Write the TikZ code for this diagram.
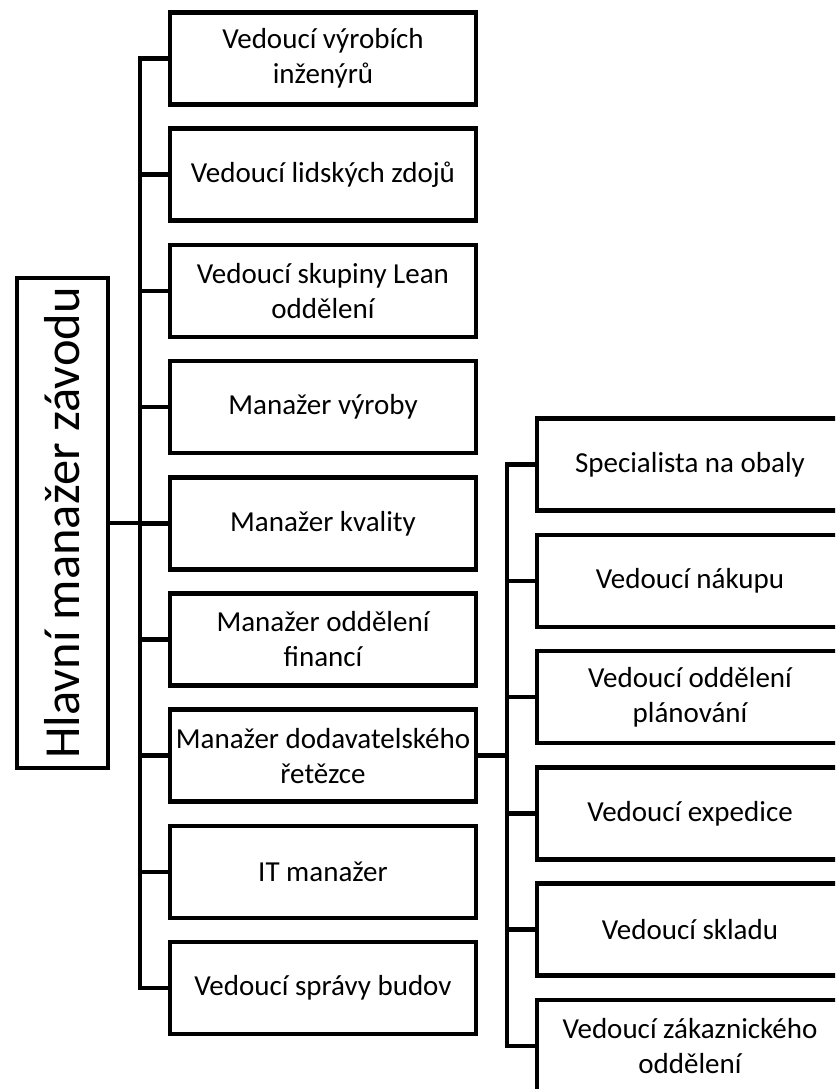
\documentclass[tikz,border=0pt]{standalone}
\usepackage{fontspec}
\setmainfont{Carlito}

\begin{document}
\begin{tikzpicture}[x=1pt, y=-1pt, line width=4.5pt,
	pozice/.style={draw, rectangle, inner sep=0pt, minimum width=306pt, minimum height=92pt, align=center, font=\fontsize{29}{35}\selectfont},
	reditel/.style={draw, rectangle, inner sep=0pt, rotate=90, minimum width=490pt, minimum height=91pt, font=\fontsize{50.5}{60}\selectfont}]

	\useasboundingbox (0,0) rectangle (835,1089);
	\clip (0,0) rectangle (835,1089);

	\node[reditel] (hlavni) at (62.5,523) {Hlavní manažer závodu};

	\node[pozice] (p1) at (323,58.5) {Vedoucí výrobích\\inženýrů};
	\node[pozice] (p2) at (323,174.7) {Vedoucí lidských zdojů};
	\node[pozice] (p3) at (323,290.9) {Vedoucí skupiny Lean\\oddělení};
	\node[pozice] (p4) at (323,407.1) {Manažer výroby};
	\node[pozice] (p5) at (323,523.3) {Manažer kvality};
	\node[pozice] (p6) at (323,639.5) {Manažer oddělení\\financí};
	\node[pozice] (p7) at (323,755.7) {Manažer dodavatelského\\řetězce};
	\node[pozice] (p8) at (323,871.9) {IT manažer};
	\node[pozice] (p9) at (323,988.1) {Vedoucí správy budov};

	\node[pozice] (d1) at (690,464.5) {Specialista na obaly};
	\node[pozice] (d2) at (690,580.8) {Vedoucí nákupu};
	\node[pozice] (d3) at (690,697.1) {Vedoucí oddělení\\plánování};
	\node[pozice] (d4) at (690,813.4) {Vedoucí expedice};
	\node[pozice] (d5) at (690,929.7) {Vedoucí skladu};
	\node[pozice] (d6) at (690,1046) {Vedoucí zákaznického\\oddělení};

	\coordinate (osa1) at (140,523);
	\coordinate (osa2) at (507,755.7);

	\draw (hlavni.south) -- (osa1);
	\draw (p1.west) -| (osa1) |- (p9.west);
	\foreach \i in {2,...,8}
		\draw (p\i.west) -- (p\i.west -| osa1);

	\draw (p7.east) -- (osa2);
	\draw (d1.west) -| (osa2) |- (d6.west);
	\foreach \i in {2,...,5}
		\draw (d\i.west) -- (d\i.west -| osa2);
\end{tikzpicture}
\end{document}
